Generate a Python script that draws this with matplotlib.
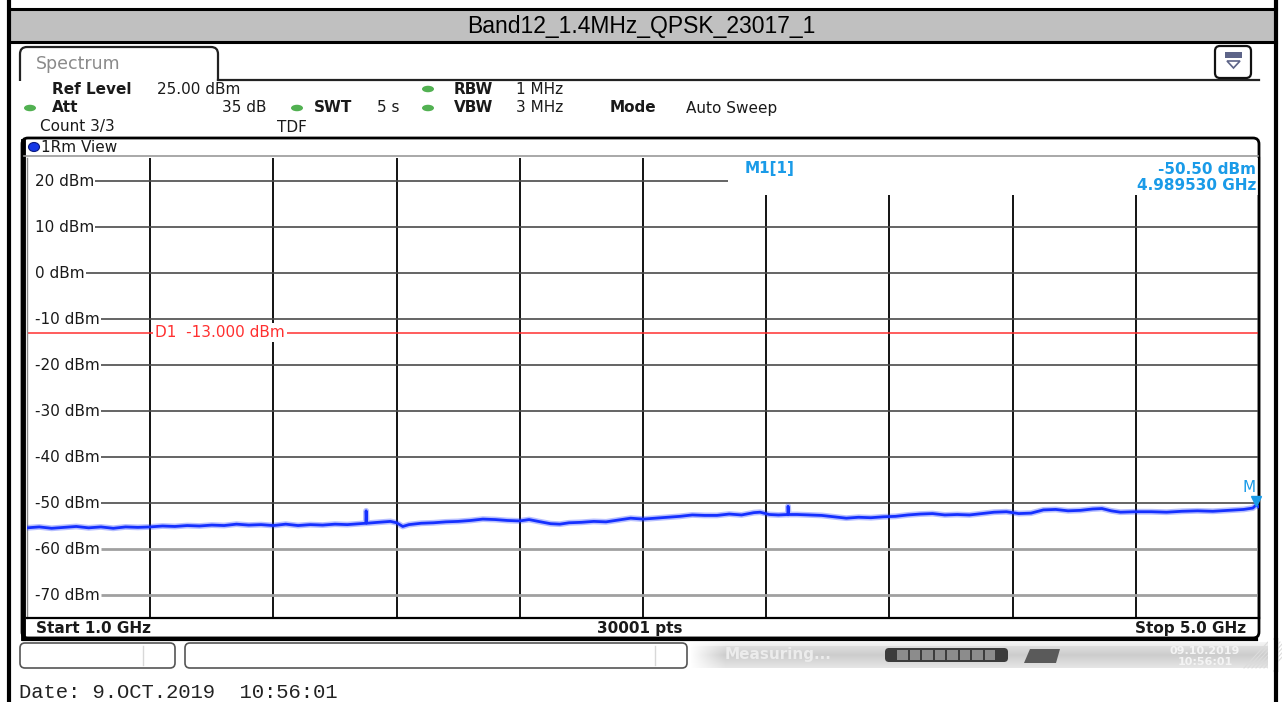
import matplotlib
matplotlib.use("Agg")
import matplotlib.pyplot as plt
import numpy as np
from matplotlib.patches import FancyBboxPatch, Rectangle, Ellipse, Polygon

# ---- measurement settings / readout ----
title = "Band12_1.4MHz_QPSK_23017_1"
f_start, f_stop = 1.0, 5.0          # GHz
ref_level, bottom_level = 25.0, -75.0
db_ticks = [20, 10, 0, -10, -20, -30, -40, -50, -60, -70]
d1_level = -13.0
marker_f, marker_db = 4.989530, -50.50
n_points = 30001

# spectrum trace (GHz, dBm)
trace_f = [1.00, 1.04, 1.08, 1.12, 1.16, 1.20, 1.24, 1.28, 1.32, 1.36,
           1.40, 1.44, 1.48, 1.52, 1.56, 1.60, 1.64, 1.68, 1.72, 1.76,
           1.80, 1.84, 1.88, 1.92, 1.96, 2.00, 2.04, 2.08, 2.100, 2.101,
           2.103, 2.14, 2.18, 2.20, 2.22, 2.24, 2.28, 2.32, 2.36, 2.40,
           2.44, 2.48, 2.52, 2.56, 2.60, 2.63, 2.66, 2.70, 2.73, 2.76,
           2.80, 2.84, 2.88, 2.92, 2.96, 3.00, 3.04, 3.08, 3.12, 3.16,
           3.20, 3.24, 3.28, 3.32, 3.36, 3.38, 3.41, 3.44, 3.470, 3.471,
           3.473, 3.50, 3.54, 3.58, 3.62, 3.66, 3.70, 3.74, 3.78, 3.82,
           3.86, 3.90, 3.94, 3.98, 4.02, 4.06, 4.10, 4.14, 4.18, 4.22,
           4.26, 4.30, 4.34, 4.38, 4.42, 4.46, 4.49, 4.52, 4.55, 4.60,
           4.65, 4.70, 4.75, 4.80, 4.85, 4.90, 4.95, 4.98, 4.98953, 5.00]
trace_db = [-55.4, -55.2, -55.5, -55.3, -55.1, -55.4, -55.2, -55.5, -55.2, -55.3,
            -55.2, -55.0, -55.1, -54.9, -55.0, -54.8, -54.9, -54.6, -54.8, -54.7,
            -54.9, -54.6, -54.9, -54.7, -54.8, -54.6, -54.7, -54.5, -54.4, -51.7,
            -54.4, -54.2, -54.0, -54.3, -55.1, -54.7, -54.4, -54.3, -54.1, -54.0,
            -53.8, -53.5, -53.6, -53.8, -53.9, -53.6, -54.0, -54.5, -54.6, -54.3,
            -54.2, -54.0, -54.1, -53.7, -53.3, -53.5, -53.3, -53.1, -52.9, -52.6,
            -52.7, -52.7, -52.4, -52.6, -52.1, -52.0, -52.5, -52.6, -52.5, -50.7,
            -52.5, -52.5, -52.6, -52.7, -53.0, -53.3, -53.1, -53.2, -53.0, -52.9,
            -52.6, -52.4, -52.3, -52.6, -52.5, -52.6, -52.3, -52.0, -51.9, -52.3,
            -52.2, -51.5, -51.4, -51.7, -51.6, -51.3, -51.2, -51.7, -52.0, -51.9,
            -51.9, -52.0, -51.8, -51.7, -51.8, -51.6, -51.4, -51.1, -50.5, -50.8]

W, H = 1282, 702
fig = plt.figure(figsize=(W / 100, H / 100), dpi=100)
fig.patch.set_facecolor("white")

# background layer in pixel coordinates
bg = fig.add_axes([0, 0, 1, 1])
bg.set_xlim(0, W)
bg.set_ylim(H, 0)
bg.axis("off")

inst = "DejaVu Sans"
fs = 11
txt_col = "#1a1a1a"

# outer table frame + title band
bg.add_patch(Rectangle((9, 9), 1267, 33, fc="#c0c0c0", ec="none"))
bg.plot([9, 1276], [9, 9], color="black", lw=2.2)
bg.plot([9, 1276], [42, 42], color="black", lw=2.2)
bg.plot([9, 9], [0, H], color="black", lw=3)
bg.plot([1276, 1276], [0, H], color="black", lw=3)
bg.text(641, 26, title, fontsize=16.5, family="Liberation Sans",
        ha="center", va="center", color="black")

# Spectrum tab
bg.add_patch(FancyBboxPatch((20, 47), 198, 44, boxstyle="round,pad=0,rounding_size=7",
                            fc="white", ec="#222222", lw=1.6, zorder=2))
bg.add_patch(Rectangle((17, 81), 206, 14, fc="white", ec="none", zorder=3))
bg.plot([218, 1259], [80, 80], color="#222222", lw=1.6, zorder=4)
bg.text(36, 64, "Spectrum", fontsize=12.5, family=inst, color="#8a8a8a",
        va="center", zorder=5)

# dropdown icon at top right
bg.add_patch(FancyBboxPatch((1215, 46), 36, 32, boxstyle="round,pad=0,rounding_size=5",
                            fc="white", ec="#111111", lw=1.6, zorder=2))
bg.add_patch(Rectangle((1225, 52), 17, 6, fc="#5d6488", ec="none", zorder=3))
bg.add_patch(Polygon([(1227, 61), (1240, 61), (1233.5, 68)], closed=True,
                     fc="white", ec="#5d6488", lw=1.2, zorder=3))

# settings readout
def hdr(x, y, s, bold=False, **kw):
    bg.text(x, y, s, fontsize=fs, family=inst, color=txt_col, va="center",
            fontweight="bold" if bold else "normal", zorder=5, **kw)

green = "#52b152"
for gx, gy in [(30, 108), (297, 108), (428, 108), (428, 89)]:
    bg.add_patch(Ellipse((gx, gy), 12, 6.5, fc=green, ec="none", zorder=5))

hdr(52, 89, "Ref Level", bold=True)
hdr(157, 89, "25.00 dBm")
hdr(454, 89, "RBW", bold=True)
hdr(516, 89, "1 MHz")
hdr(52, 108, "Att", bold=True)
hdr(266, 108, "35 dB", ha="right")
hdr(314, 108, "SWT", bold=True)
hdr(377, 108, "5 s")
hdr(454, 108, "VBW", bold=True)
hdr(516, 108, "3 MHz")
hdr(610, 108, "Mode", bold=True)
hdr(686, 108, "Auto Sweep")
hdr(40, 127, "Count 3/3")
hdr(277, 127, "TDF")

# diagram window frame
bg.add_patch(FancyBboxPatch((22, 138), 1237, 500, boxstyle="round,pad=0,rounding_size=6",
                            fc="white", ec="black", lw=2, zorder=1))
bg.plot([23, 23], [141, 638], color="black", lw=3.5, zorder=2)
bg.plot([24, 1256], [638.5, 638.5], color="black", lw=3, zorder=2)
bg.plot([24, 1258], [155.5, 155.5], color="#9a9a9a", lw=1.2, zorder=2)
bg.add_patch(Ellipse((34, 147), 11, 9, fc="#1538e6", ec="#0a1a80", lw=0.8, zorder=3))
hdr(41, 147, "1Rm View")

# frequency footer
def foot(x, s, **kw):
    bg.text(x, 628.5, s, fontsize=fs, family=inst, color=txt_col, va="center",
            fontweight="bold", zorder=5, **kw)

foot(36, "Start %.1f GHz" % f_start)
foot(640, "%d pts" % n_points, ha="center")
foot(1246, "Stop %.1f GHz" % f_stop, ha="right")

# status bar
for x0, x1, div in [(20, 175, 143), (185, 687, 655)]:
    bg.add_patch(FancyBboxPatch((x0, 643), x1 - x0, 25, boxstyle="round,pad=0,rounding_size=5",
                                fc="white", ec="#555555", lw=1.2, zorder=2))
    bg.plot([div, div], [646, 665], color="#d8d8d8", lw=1, zorder=3)

rows = np.linspace(0, 1, 26)
vprof = 0.80 + 0.10 * np.abs(rows - 0.5) * 2 + 0.06 * (rows < 0.15)
cols = np.linspace(0, 1, 585)
hfade = np.clip(cols / 0.06, 0, 1)
shade = 1 - (1 - vprof[:, None]) * hfade[None, :]
grad = np.dstack([shade] * 3)
bg.imshow(grad, extent=(690, 1275, 668, 642), origin="upper", aspect="auto",
          interpolation="bilinear", zorder=1)
for k in range(8):
    xh = 1244 + 4 * k
    bg.plot([xh, xh + 24], [668, 642], color="#dcdcdc", lw=0.8, zorder=2)
bg.add_patch(Rectangle((1268, 640), 10, 30, fc="white", ec="none", zorder=2))
bg.plot([1276, 1276], [640, 670], color="black", lw=3, zorder=3)
bg.text(725, 655, "Measuring...", fontsize=fs, family=inst, color="#ececec",
        fontweight="bold", va="center", zorder=4)
bg.add_patch(FancyBboxPatch((885, 648), 123, 14, boxstyle="round,pad=0,rounding_size=4",
                            fc="#3c3c3c", ec="none", zorder=3))
for k in range(8):
    bg.add_patch(Rectangle((897 + k * 12.5, 650), 10.5, 10, fc="#8c8c8c",
                           ec="none", zorder=4))
bg.add_patch(Polygon([(1024, 663), (1030, 649), (1060, 649), (1056, 663)],
                     closed=True, fc="#5a5a5a", ec="none", zorder=3))
bg.text(1205, 651, "09.10.2019", fontsize=8, family=inst, color="#f4f4f4",
        fontweight="bold", ha="center", va="center", zorder=4)
bg.text(1205, 662, "10:56:01", fontsize=8, family=inst, color="#f4f4f4",
        fontweight="bold", ha="center", va="center", zorder=4)

bg.text(19, 692, "Date: 9.OCT.2019  10:56:01", fontsize=14.8,
        family="Liberation Mono", color="#222222", va="center")

# ---- trace diagram ----
L, R, T, B = 27, 1259, 158, 618
ax = fig.add_axes([L / W, 1 - B / H, (R - L) / W, (B - T) / H])
ax.set_xlim(f_start, f_stop)
ax.set_ylim(bottom_level, ref_level)
ax.set_xticks([])
ax.set_yticks([])
ax.patch.set_alpha(0)
ax.spines["top"].set_visible(False)
ax.spines["left"].set_color("#888888")
ax.spines["left"].set_linewidth(1)
ax.spines["bottom"].set_linewidth(1.6)
ax.spines["right"].set_linewidth(1.6)

# pixel helpers for placing annotations inside the diagram
def fx(px):
    return f_start + (px - L) / (R - L) * (f_stop - f_start)

def fy(py):
    return ref_level - (py - T) / (B - T) * (ref_level - bottom_level)

# vertical grid
for f in np.linspace(f_start, f_stop, 11)[1:-1]:
    ax.axvline(f, color="black", lw=1.3, zorder=1)

# level labels, horizontal grid drawn from the label end
labels = []
for db in db_ticks:
    t = ax.text(fx(35), db, "%d dBm" % db, fontsize=fs, family=inst,
                color=txt_col, va="center", ha="left", zorder=3)
    labels.append((db, t))
fig.canvas.draw()
inv = ax.transData.inverted()
for db, t in labels:
    x0 = inv.transform((t.get_window_extent().x1 + 1, 0))[0]
    x1 = fx(728) if db == 20 else f_stop
    light = db <= -60
    ax.hlines(db, x0, x1, color="#a0a0a0" if light else "#4a4a4a",
              lw=2.0 if light else 1.2, zorder=1)

# clear area for the marker readout
ax.add_patch(Rectangle((fx(728), fy(195)), f_stop - fx(728), ref_level - fy(195),
                       fc="white", ec="none", zorder=2))

# display line D1
ax.axhline(d1_level, color="#ff3030", lw=1.1, zorder=2)
ax.text(fx(155), d1_level, "D1  %.3f dBm" % d1_level, fontsize=fs, family=inst,
        color="#ff3030", va="center", zorder=3,
        bbox=dict(fc="white", ec="none", pad=1.5))

# trace
blue = "#1530ff"
ax.plot(trace_f, trace_db, color=blue, lw=4.2, alpha=0.3, zorder=4,
        solid_joinstyle="round")
ax.plot(trace_f, trace_db, color=blue, lw=2.0, zorder=5)

# marker M1
mk = "#1a9be8"
ax.plot(marker_f, marker_db + 0.9, marker="v", color=mk, ms=7, zorder=6,
        clip_on=False)
ax.text(fx(1249), fy(488), "M", fontsize=fs, family=inst, color=mk,
        ha="center", va="center", zorder=6)
ax.text(fx(745), fy(169), "M1[1]", fontsize=fs, family=inst, color=mk,
        fontweight="bold", va="center", zorder=3)
ax.text(fx(1256), fy(169), "%.2f dBm" % marker_db, fontsize=fs, family=inst,
        color=mk, fontweight="bold", ha="right", va="center", zorder=3)
ax.text(fx(1256), fy(185), "%.6f GHz" % marker_f, fontsize=fs, family=inst,
        color=mk, fontweight="bold", ha="right", va="center", zorder=3)

fig.savefig("out.png", dpi=100)
